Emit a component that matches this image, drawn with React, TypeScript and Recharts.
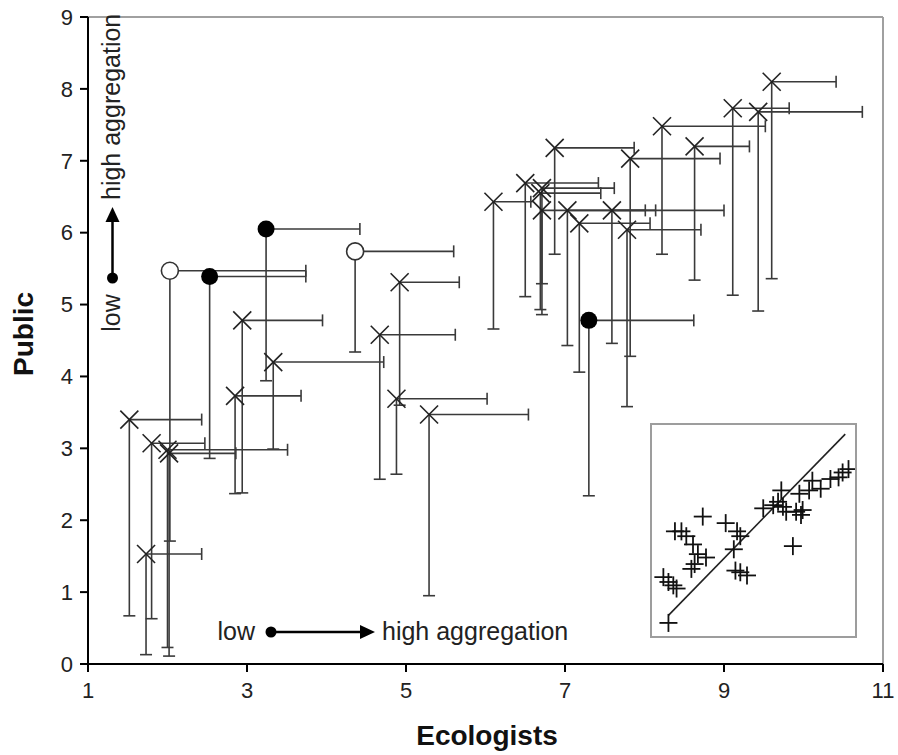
import { ScatterChart, Scatter, XAxis, YAxis, ReferenceLine } from 'recharts'

const xTicks = [1, 3, 5, 7, 9, 11]
const yTicks = [0, 1, 2, 3, 4, 5, 6, 7, 8, 9]

// crosses: mean position, right end of the x bar, lower end of the y bar
const crossX = [1.52, 1.8, 2.0, 2.02, 1.73, 2.85, 2.94, 3.33, 4.92, 4.88, 4.67, 5.29, 6.1, 6.5, 6.71, 6.69, 6.71, 6.87, 7.03, 7.18, 7.59, 7.78, 7.82, 8.22, 8.63, 9.11, 9.43, 9.6]
const crossY = [3.4, 3.07, 2.98, 2.93, 1.53, 3.73, 4.78, 4.2, 5.31, 3.69, 4.58, 3.47, 6.43, 6.69, 6.62, 6.55, 6.31, 7.18, 6.31, 6.13, 6.31, 6.04, 7.03, 7.48, 7.2, 7.73, 7.68, 8.1]
const crossXEnd = [2.43, 2.47, 3.51, 2.86, 2.43, 3.68, 3.95, 4.72, 5.67, 6.02, 5.62, 6.54, 6.57, 7.42, 7.62, 7.45, 8.14, 7.87, 8.01, 8.07, 9.0, 8.71, 8.95, 9.52, 9.32, 9.82, 10.74, 10.41]
const crossYEnd = [0.67, 0.63, 0.23, 0.11, 0.13, 2.37, 2.38, 2.99, 3.6, 2.64, 2.57, 0.95, 4.66, 5.11, 5.29, 4.93, 4.86, 5.7, 4.43, 4.06, 4.46, 3.58, 4.28, 5.7, 5.34, 5.13, 4.91, 5.36]

const filledX = [2.53, 3.24, 7.3]
const filledY = [5.39, 6.05, 4.78]
const filledXEnd = [3.74, 4.42, 8.62]
const filledYEnd = [2.86, 3.94, 2.34]

const openX = [2.03, 4.36]
const openY = [5.47, 5.74]
const openXEnd = [3.74, 5.6]
const openYEnd = [1.71, 4.34]

// inset (relative 0-10 units inside the small box)
const insetX = [0.81, 0.56, 0.81, 1.05, 1.21, 1.13, 1.45, 1.69, 2.5, 2.02, 2.26, 2.66, 2.1, 1.94, 3.63, 4.19, 4.35, 4.03, 4.11, 4.35, 4.68, 5.48, 5.97, 6.37, 6.21, 6.45, 6.61, 7.1, 7.34, 7.42, 6.94, 7.26, 7.74, 7.9, 8.31, 8.79, 9.19, 9.39, 9.68]
const insetY = [0.62, 2.79, 2.56, 2.4, 2.25, 4.96, 4.96, 4.73, 5.66, 4.34, 3.88, 3.72, 3.41, 3.18, 5.35, 4.96, 4.73, 4.11, 3.1, 3.02, 2.87, 6.05, 6.2, 6.9, 6.36, 6.12, 5.89, 5.89, 5.74, 5.97, 4.26, 6.74, 6.9, 7.36, 6.98, 7.44, 7.52, 7.75, 7.91]
const insetLineX = [0.81, 9.52]
const insetLineY = [0.98, 9.57]

const BAR = '#3a3a3a'
const FONT = '"Liberation Sans", Arial, sans-serif'

const toRows = (xs: number[], ys: number[], xe: number[], ye: number[]) =>
  xs.map((x, i) => ({ x, y: ys[i], xEnd: xe[i], yEnd: ye[i] }))

const crosses = toRows(crossX, crossY, crossXEnd, crossYEnd)
const filled = toRows(filledX, filledY, filledXEnd, filledYEnd)
const open = toRows(openX, openY, openXEnd, openYEnd)
const allRows = [...crosses, ...filled, ...open]
const hCaps = allRows.map(r => ({ x: r.xEnd, y: r.y }))
const vCaps = allRows.map(r => ({ x: r.x, y: r.yEnd }))
const insetRows = insetX.map((x, i) => ({ x, y: insetY[i] }))

const Cross = (p: any) => {
  const { cx, cy } = p
  const s = 9
  return (
    <g stroke="#222" strokeWidth={1.6}>
      <line x1={cx - s} y1={cy - s} x2={cx + s} y2={cy + s} />
      <line x1={cx - s} y1={cy + s} x2={cx + s} y2={cy - s} />
    </g>
  )
}
const Dot = (p: any) => <circle cx={p.cx} cy={p.cy} r={8.5} fill="#000" />
const Ring = (p: any) => <circle cx={p.cx} cy={p.cy} r={8.5} fill="#fff" stroke="#333" strokeWidth={1.6} />
const VCap = (p: any) => <line x1={p.cx} y1={p.cy - 6} x2={p.cx} y2={p.cy + 6} stroke={BAR} strokeWidth={1.6} />
const HCap = (p: any) => <line x1={p.cx - 6} y1={p.cy} x2={p.cx + 6} y2={p.cy} stroke={BAR} strokeWidth={1.6} />
const Plus = (p: any) => {
  const { cx, cy } = p
  const s = 9
  return (
    <g stroke="#111" strokeWidth={1.8}>
      <line x1={cx - s} y1={cy} x2={cx + s} y2={cy} />
      <line x1={cx} y1={cy - s} x2={cx} y2={cy + s} />
    </g>
  )
}

export default function App() {
  return (
    <div style={{ position: 'absolute', left: 0, top: 0, width: 898, height: 755, background: '#fff', fontFamily: FONT }}>
      <ScatterChart width={898} height={755} margin={{ top: 17, right: 15, bottom: 0, left: 0 }}>
        <XAxis
          type="number"
          dataKey="x"
          domain={[1, 11]}
          ticks={xTicks}
          allowDataOverflow
          height={91}
          tickSize={8}
          tickMargin={10}
          axisLine={{ stroke: '#000', strokeWidth: 2 }}
          tickLine={{ stroke: '#000', strokeWidth: 2 }}
          tick={{ fontSize: 22, fill: '#222', fontFamily: FONT }}
        />
        <YAxis
          type="number"
          dataKey="y"
          domain={[0, 9]}
          ticks={yTicks}
          allowDataOverflow
          width={88}
          tickSize={8}
          tickMargin={7}
          axisLine={{ stroke: '#000', strokeWidth: 2 }}
          tickLine={{ stroke: '#000', strokeWidth: 2 }}
          tick={{ fontSize: 22, fill: '#222', fontFamily: FONT }}
        />
        <ReferenceLine y={9} stroke="#a0a0a0" strokeWidth={2} />
        <ReferenceLine x={11} stroke="#a0a0a0" strokeWidth={2} />
        {allRows.map((r, i) => (
          <ReferenceLine key={'h' + i} segment={[{ x: r.x, y: r.y }, { x: r.xEnd, y: r.y }]} stroke={BAR} strokeWidth={1.6} />
        ))}
        {allRows.map((r, i) => (
          <ReferenceLine key={'v' + i} segment={[{ x: r.x, y: r.y }, { x: r.x, y: r.yEnd }]} stroke={BAR} strokeWidth={1.6} />
        ))}
        <Scatter data={hCaps} shape={VCap} isAnimationActive={false} />
        <Scatter data={vCaps} shape={HCap} isAnimationActive={false} />
        <Scatter data={crosses} shape={Cross} isAnimationActive={false} />
        <Scatter data={filled} shape={Dot} isAnimationActive={false} />
        <Scatter data={open} shape={Ring} isAnimationActive={false} />
      </ScatterChart>

      <svg width={898} height={755} style={{ position: 'absolute', left: 0, top: 0, pointerEvents: 'none' }} fontFamily={FONT}>
        <text x={487} y={745} textAnchor="middle" fontSize={28} fontWeight="bold" fill="#111">Ecologists</text>
        <text x={33} y={334} textAnchor="middle" fontSize={28} fontWeight="bold" fill="#111" transform="rotate(-90 33 334)">Public</text>

        <text x={255} y={640} textAnchor="end" fontSize={25} fill="#222">low</text>
        <circle cx={271} cy={632} r={5.5} fill="#000" />
        <line x1={271} y1={632} x2={362} y2={632} stroke="#000" strokeWidth={2.5} />
        <polygon points="360,625 375,632 360,639" fill="#000" />
        <text x={382} y={640} fontSize={25} fill="#222">high aggregation</text>

        <text x={120} y={313} textAnchor="middle" fontSize={25} fill="#222" transform="rotate(-90 120 313)">low</text>
        <circle cx={112.5} cy={278} r={5.5} fill="#000" />
        <line x1={112.5} y1={278} x2={112.5} y2={220} stroke="#000" strokeWidth={2.5} />
        <polygon points="105.5,222 112.5,207 119.5,222" fill="#000" />
        <text x={120} y={200} fontSize={25} fill="#222" transform="rotate(-90 120 200)">high aggregation</text>
      </svg>

      <div style={{ position: 'absolute', left: 650, top: 423, width: 207, height: 215, border: '2px solid #9d9d9d', boxSizing: 'border-box', background: '#fff' }}>
        <ScatterChart width={203} height={211} margin={{ top: 0, right: 0, bottom: 0, left: 0 }}>
          <XAxis type="number" dataKey="x" domain={[0, 10]} hide />
          <YAxis type="number" dataKey="y" domain={[0, 10]} hide />
          <ReferenceLine segment={[{ x: insetLineX[0], y: insetLineY[0] }, { x: insetLineX[1], y: insetLineY[1] }]} stroke="#222" strokeWidth={1.6} />
          <Scatter data={insetRows} shape={Plus} isAnimationActive={false} />
        </ScatterChart>
      </div>
    </div>
  )
}
